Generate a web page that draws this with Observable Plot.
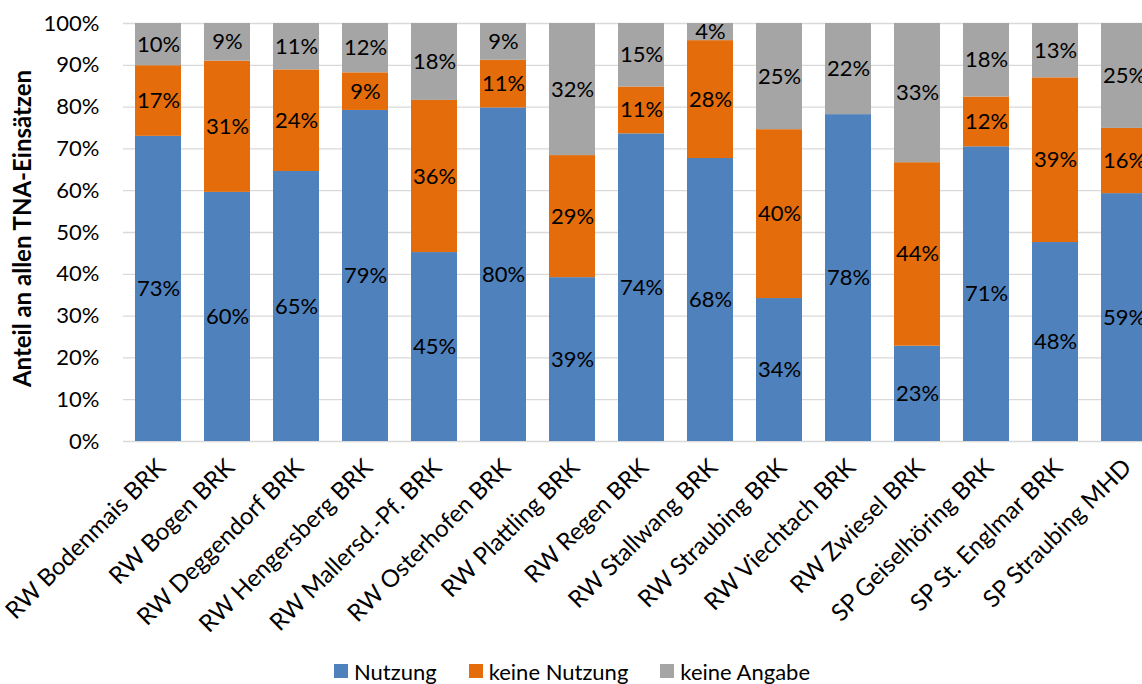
<!DOCTYPE html>
<html>
<head>
<meta charset="utf-8">
<script src="https://cdn.jsdelivr.net/npm/d3@7"></script>
<script src="https://cdn.jsdelivr.net/npm/@observablehq/plot@0.6"></script>
<style>
  html, body { margin: 0; padding: 0; background: white; overflow: hidden; }
  #wrap { width: 1142px; height: 684px; overflow: hidden; position: relative; font-family: Lato, sans-serif; }
  #legend { display: flex; justify-content: center; align-items: center; gap: 32px; height: 34px; padding-top: 4px; font-size: 22px; color: #000; padding-left: 2px; }
  .item { display: flex; align-items: center; gap: 6px; }
  .sw { width: 14px; height: 14px; display: inline-block; }
</style>
</head>
<body>
<div id="wrap"><div id="chart"></div><div id="legend"></div></div>
<script>
const categories = [
  "RW Bodenmais BRK", "RW Bogen BRK", "RW Deggendorf BRK", "RW Hengersberg BRK",
  "RW Mallersd.-Pf. BRK", "RW Osterhofen BRK", "RW Plattling BRK", "RW Regen BRK",
  "RW Stallwang BRK", "RW Straubing BRK", "RW Viechtach BRK", "RW Zwiesel BRK",
  "SP Geiselhöring BRK", "SP St. Englmar BRK", "SP Straubing MHD"
];
const nutzung      = [73.0, 59.6, 64.6, 79.2, 45.2, 79.8, 39.2, 73.6, 67.7, 34.2, 78.2, 22.8, 70.5, 47.6, 59.3];
const keineNutzung = [16.9, 31.4, 24.3,  9.0, 36.4, 11.4, 29.2, 11.2, 28.2, 40.4,  0.0, 43.9, 11.9, 39.4, 15.6];
const keineAngabe  = [10.1,  9.0, 11.1, 11.8, 18.4,  8.8, 31.6, 15.2,  4.1, 25.4, 21.8, 33.3, 17.6, 13.0, 25.1];
const seriesNames = ["Nutzung", "keine Nutzung", "keine Angabe"];
const seriesColors = ["#4F81BD", "#E46C0A", "#A5A5A5"];
const yTicks = [0, 10, 20, 30, 40, 50, 60, 70, 80, 90, 100];
const yTitle = "Anteil an allen TNA-Einsätzen";

const seriesValues = [nutzung, keineNutzung, keineAngabe];
const data = categories.flatMap((c, i) =>
  seriesNames.map((s, k) => ({cat: c, series: s, value: seriesValues[k][i]}))
);

const chart = Plot.plot({
  width: 1142,
  height: 650,
  marginLeft: 123,
  marginRight: 0,
  marginTop: 23,
  marginBottom: 209,
  style: {fontFamily: "Lato, sans-serif", fontSize: "22px", color: "#000", background: "white", overflow: "hidden"},
  x: {domain: categories, range: [112, 1170.6], padding: 0.334},
  y: {domain: [0, 100]},
  color: {domain: seriesNames, range: seriesColors},
  marks: [
    Plot.gridY(yTicks, {stroke: "#d9d9d9", strokeOpacity: 1, strokeWidth: 1.3}),
    Plot.barY(data, Plot.stackY({x: "cat", y: "value", fill: "series"})),
    Plot.text(data, Plot.stackY({
      x: "cat", y: "value", z: "series",
      text: d => d.value > 0 ? Math.round(d.value) + "%" : "",
      fill: "#000", fontSize: 22
    })),
    Plot.axisY(yTicks, {tickSize: 0, tickPadding: 24, tickFormat: d => d + "%", label: null, fontSize: 22}),
    Plot.axisX({tickRotate: -45, tickSize: 0, tickPadding: 22, dx: 3, label: null, fontSize: 24}),
    Plot.text([yTitle], {frameAnchor: "left", dx: -100, dy: -4, rotate: -90, textAnchor: "middle", fontWeight: "bold", fontSize: 24, fill: "#000"})
  ]
});
document.getElementById("chart").appendChild(chart);

const legend = document.getElementById("legend");
seriesNames.forEach((s, k) => {
  const it = document.createElement("div");
  it.className = "item";
  const sw = document.createElement("span");
  sw.className = "sw";
  sw.style.background = seriesColors[k];
  const t = document.createElement("span");
  t.textContent = s;
  it.appendChild(sw); it.appendChild(t);
  legend.appendChild(it);
});
</script>
</body>
</html>
